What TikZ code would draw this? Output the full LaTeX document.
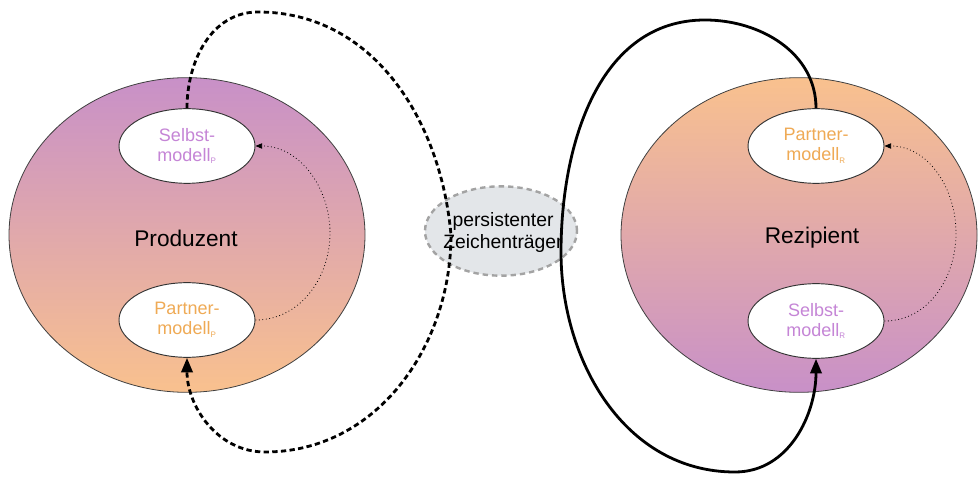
\documentclass[tikz,border=0pt]{standalone}
\usepackage{fontspec}
\setmainfont{Liberation Sans}
\usetikzlibrary{shapes.geometric,arrows.meta}
\definecolor{lila}{HTML}{C890C8}
\definecolor{orng}{HTML}{F9C18E}
\definecolor{lilatext}{HTML}{C585D6}
\definecolor{orngtext}{HTML}{EFAA55}
\definecolor{midfill}{HTML}{E3E6E9}
\definecolor{midline}{HTML}{A3A3A3}
\tikzset{
  bigell/.style={ellipse, draw=black!75, line width=0.6pt, minimum width=267pt, minimum height=236pt, inner sep=0pt},
  smallell/.style={ellipse, draw=black!80, line width=0.7pt, fill=white, minimum width=102pt, minimum height=56pt, inner sep=0pt, align=center, font=\fontsize{13.5}{15}\selectfont},
  bigtext/.style={font=\fontsize{17}{19}\selectfont},
  midell/.style={ellipse, draw=midline, dash pattern=on 4pt off 3pt, line width=1.8pt, fill=midfill, minimum width=114pt, minimum height=67pt, inner sep=0pt},
  midtext/.style={align=center, inner sep=0pt, font=\fontsize{14.5}{16.5}\selectfont},
  loopdash/.style={line width=2.1pt, dash pattern=on 4pt off 2.5pt, -{Triangle[length=11pt,width=8.5pt]}},
  loopsolid/.style={line width=2.1pt, -{Triangle[length=11pt,width=8.5pt]}},
  dotarrow/.style={line width=0.6pt, dotted, -{Triangle[length=5pt,width=4pt]}}
}
\newcommand{\sub}[1]{\textsubscript{\fontsize{6}{6}\selectfont #1}}
\begin{document}
\begin{tikzpicture}[x=0.75pt,y=-0.75pt]
\useasboundingbox (0,0) rectangle (980,484);
% big ellipses
\node[bigell, top color=lila, bottom color=orng] (prod) at (187,235) {};
\node[bigell, top color=orng, bottom color=lila] (rez) at (799,235) {};
\node[bigtext] (prodt) at (186,238) {Produzent};
\node[bigtext] (rezt) at (812,238) {Rezipient};
% small ellipses
\node[smallell, text=lilatext] (sp) at (187,146) {Selbst-\\modell\sub{P}};
\node[smallell, text=orngtext] (pp) at (187,320) {Partner-\\modell\sub{P}};
\node[smallell, text=orngtext] (pr) at (816,146) {Partner-\\modell\sub{R}};
\node[smallell, text=lilatext] (sr) at (816,321) {Selbst-\\modell\sub{R}};
% middle
\node[midell] (mid) at (501,231) {};
\node[midtext] (midt) at (503,233) {persistenter\\Zeichenträger};
% dotted arrows
\draw[dotarrow] (pp.east) to[out=0,in=-90] (330,233) to[out=90,in=0] (sp.east);
\draw[dotarrow] (sr.east) to[out=0,in=-90] (956,233) to[out=90,in=0] (pr.east);
% loops
\draw[loopdash] (sp.north) to[out=90,in=180] (258,12) to[out=0,in=95] (451,235) to[out=-90,in=0] (265,452) to[out=180,in=-90] (pp.south);
\draw[loopsolid] (pr.north) to[out=90,in=0] (705,20) to[out=180,in=90] (561,252) to[out=-90,in=180] (735,472) to[out=0,in=-90] (sr.south);
\end{tikzpicture}
\end{document}
